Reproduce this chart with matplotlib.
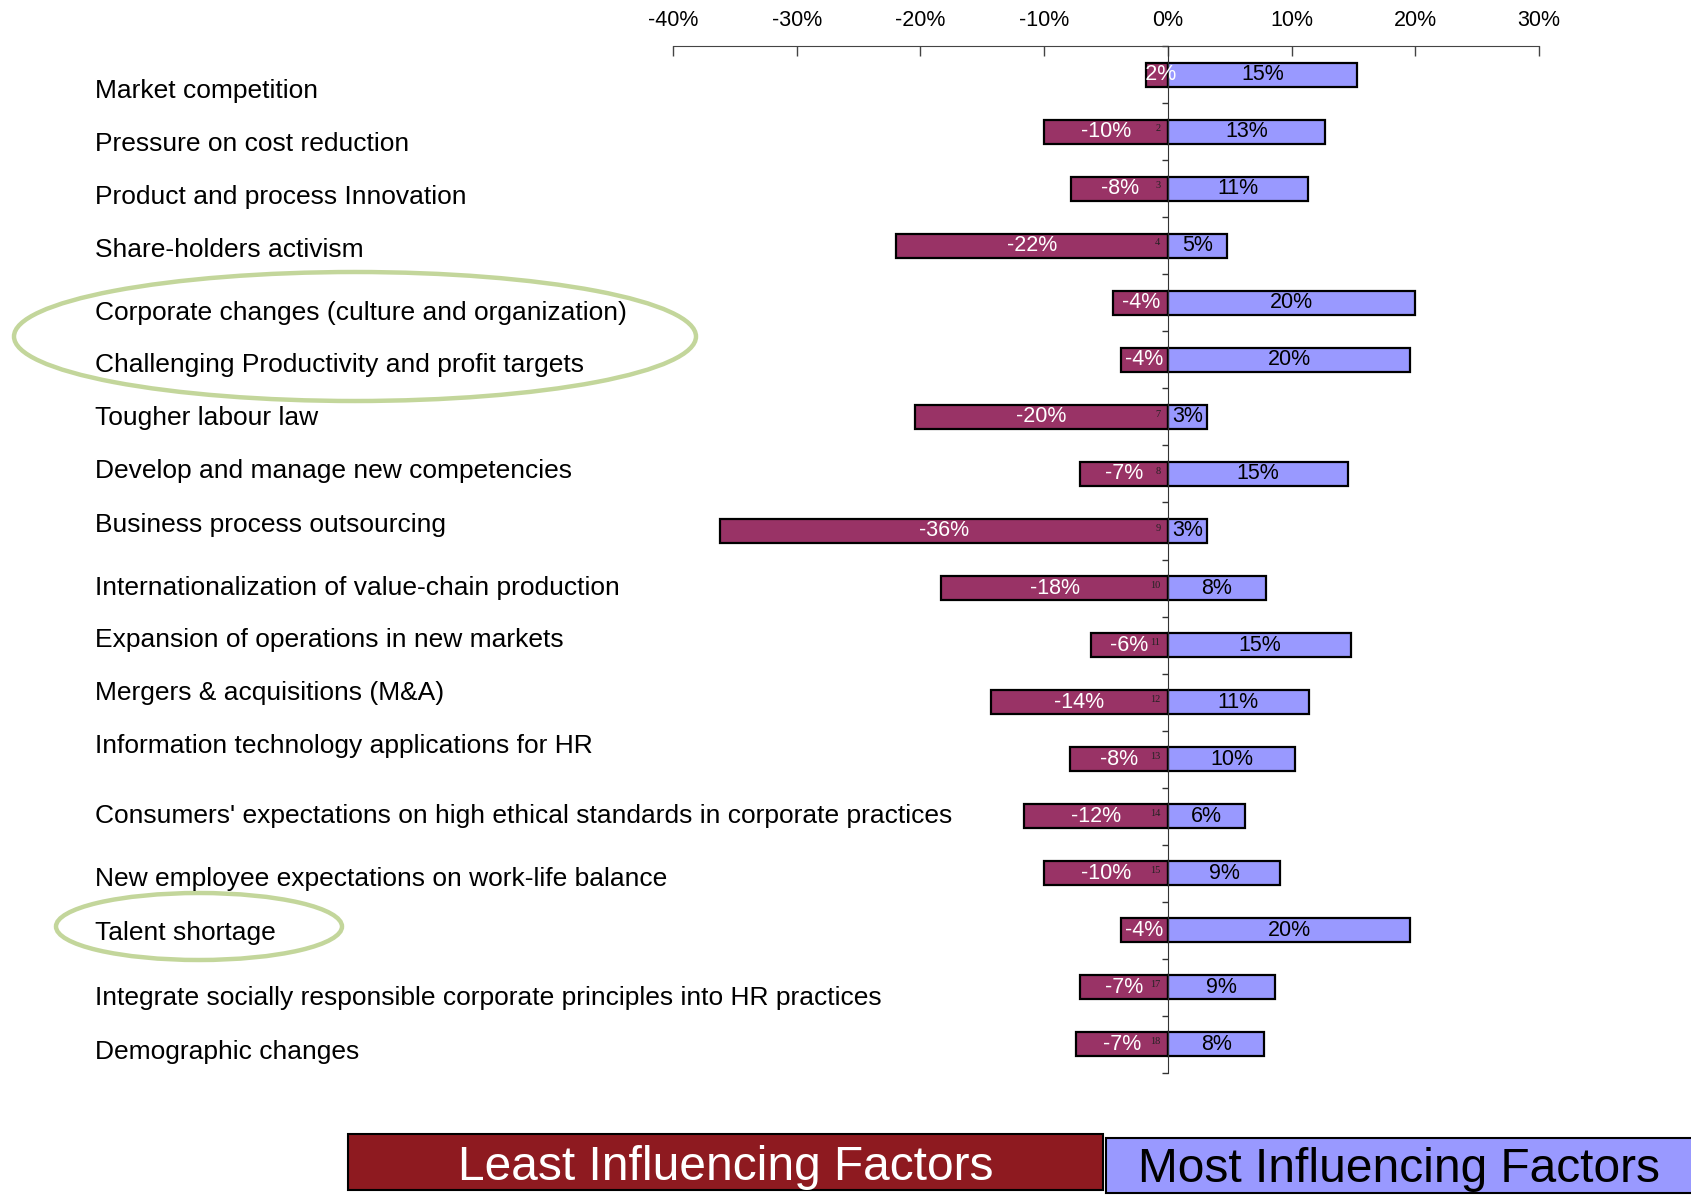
import matplotlib.pyplot as plt
import numpy as np
from matplotlib.patches import Ellipse, Rectangle

plt.rcParams['font.family'] = ['Liberation Sans', 'DejaVu Sans']

factors = [
    'Market competition',
    'Pressure on cost reduction',
    'Product and process Innovation',
    'Share-holders activism',
    'Corporate changes (culture and organization)',
    'Challenging Productivity and profit targets',
    'Tougher labour law',
    'Develop and manage new competencies',
    'Business process outsourcing',
    'Internationalization of value-chain production',
    'Expansion of operations in new markets',
    'Mergers & acquisitions (M&A)',
    'Information technology applications for HR',
    "Consumers' expectations on high ethical standards in corporate practices",
    'New employee expectations on work-life balance',
    'Talent shortage',
    'Integrate socially responsible corporate principles into HR practices',
    'Demographic changes',
]
least = [-1.8, -10.0, -7.8, -22.0, -4.4, -3.8, -20.4, -7.1, -36.2,
         -18.3, -6.2, -14.3, -7.9, -11.6, -10.0, -3.8, -7.1, -7.4]
most = [15.3, 12.7, 11.3, 4.8, 20.0, 19.6, 3.2, 14.6, 3.2,
        7.9, 14.8, 11.4, 10.3, 6.2, 9.1, 19.6, 8.7, 7.8]
x_ticks = [-40, -30, -20, -10, 0, 10, 20, 30]

# vertical placement of the factor names (pixels from top, text is a separate box)
label_y_px = [88, 141, 194, 247, 310, 362, 415, 468, 522,
              585, 637, 690, 743, 813, 876, 930, 995, 1049]

W, H = 1691, 1197
fig = plt.figure(figsize=(W / 100, H / 100), dpi=100)
ax = fig.add_axes([673 / W, 1 - 1073 / H, (1539 - 673) / W, (1073 - 46) / H])

y = np.arange(1, len(factors) + 1)
ax.barh(y, least, height=0.42, color='#993366', edgecolor='black', linewidth=1.6, zorder=2)
ax.barh(y, most, height=0.42, color='#9999FF', edgecolor='black', linewidth=1.6, zorder=2)

for i, (n, p) in enumerate(zip(least, most)):
    ax.text(n / 2, y[i], f'{n:.0f}%', ha='center', va='center', color='white',
            fontsize=15.5, zorder=4)
    ax.text(p / 2, y[i], f'{p:.0f}%', ha='center', va='center', color='black',
            fontsize=15.5, zorder=4)
    if abs(n) > 5:
        ax.text(-0.6, y[i] - 0.05, str(i + 1), ha='right', va='center', color='#222222',
                fontsize=7.5, family='Liberation Serif', zorder=3)

ax.set_xlim(-40, 30)
ax.set_ylim(len(factors) + 0.5, 0.5)
ax.xaxis.tick_top()
ax.set_xticks(x_ticks)
ax.set_xticklabels([f'{t}%' for t in x_ticks], fontsize=15.5)
ax.tick_params(axis='x', direction='in', length=7, width=1, pad=11, colors='#444444',
               labelcolor='black')
ax.spines['top'].set_color('#444444')
ax.spines['bottom'].set_visible(False)
ax.spines['right'].set_visible(False)
ax.spines['left'].set_position(('data', 0))
ax.spines['left'].set_color('#333333')
ax.spines['left'].set_zorder(3)
ax.set_yticks(np.arange(0.5, len(factors) + 1, 1))
ax.set_yticklabels([])
ax.tick_params(axis='y', direction='out', length=4, width=1, colors='#333333')

for name, yp in zip(factors, label_y_px):
    fig.text(95 / W, 1 - (yp + 10) / H, name, ha='left', va='baseline', fontsize=19)

# highlight ellipses
fig.patches.append(Ellipse((355 / W, 1 - 336.5 / H), 682 / W, 129 / H, fill=False,
                           edgecolor='#C3D69B', linewidth=3.2, transform=fig.transFigure))
fig.patches.append(Ellipse((199 / W, 1 - 926.5 / H), 286 / W, 67 / H, fill=False,
                           edgecolor='#C3D69B', linewidth=3.2, transform=fig.transFigure))

# bottom key boxes
fig.patches.append(Rectangle((348 / W, 1 - 1190 / H), 755 / W, 56 / H, facecolor='#8E1A20',
                             edgecolor='black', linewidth=1.5, transform=fig.transFigure))
fig.patches.append(Rectangle((1106 / W, 1 - 1193 / H), 600 / W, 55 / H, facecolor='#9999FF',
                             edgecolor='black', linewidth=1.5, transform=fig.transFigure))
fig.text(726 / W, 1 - 1167 / H, 'Least Influencing Factors', ha='center', va='center',
         color='white', fontsize=34.5)
fig.text(1399 / W, 1 - 1170 / H, 'Most Influencing Factors', ha='center', va='center',
         color='black', fontsize=34.5)

fig.savefig('out.png', dpi=100)
